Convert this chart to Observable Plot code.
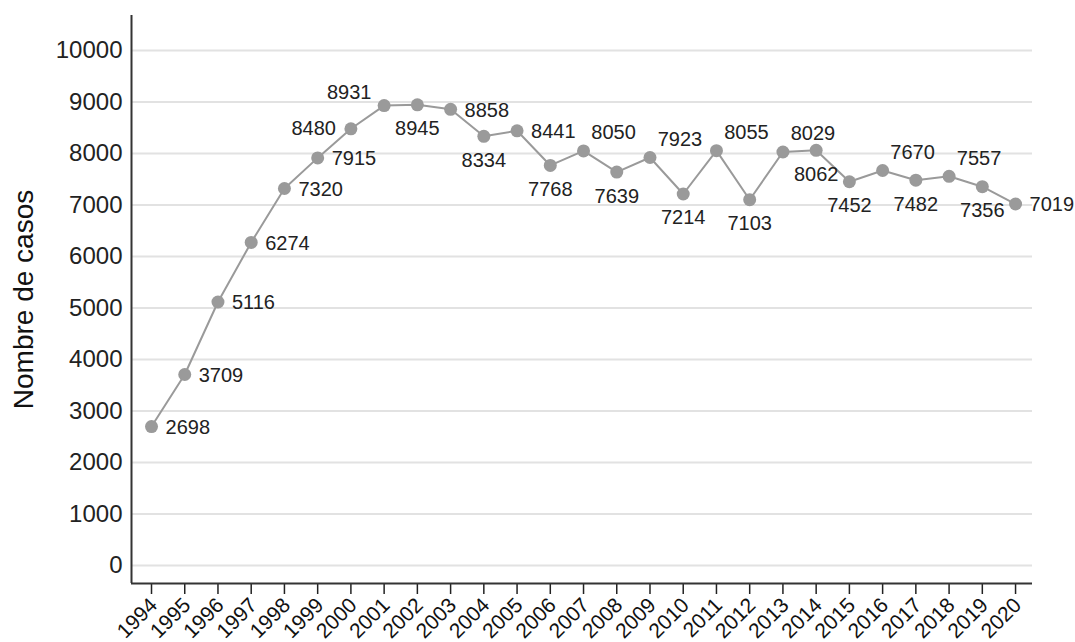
<!DOCTYPE html>
<html><head><meta charset="utf-8">
<script src="https://cdn.jsdelivr.net/npm/d3@7"></script>
<script src="https://cdn.jsdelivr.net/npm/@observablehq/plot@0.6"></script>
<style>body{margin:0;background:#fff;}</style>
</head><body><div id="chart"></div>
<script>
const years = [1994,1995,1996,1997,1998,1999,2000,2001,2002,2003,2004,2005,2006,2007,2008,2009,2010,2011,2012,2013,2014,2015,2016,2017,2018,2019,2020];
const cases = [2698,3709,5116,6274,7320,7915,8480,8931,8945,8858,8334,8441,7768,8050,7639,7923,7214,8055,7103,8029,8062,7452,7670,7482,7557,7356,7019];
// label placement relative to each point (r = right, l = left, b = below, ne = upper right, nw = upper left)
const labelPos = ["r","r","r","r","r","r","l","nw","b","r","b","r","b","ne","b","ne","b","ne","b","ne","b","b","ne","b","ne","b","r"];
const yTicks = [0,1000,2000,3000,4000,5000,6000,7000,8000,9000,10000];
const yTitle = "Nombre de casos";

const data = years.map((y, i) => ({year: y, n: cases[i], pos: labelPos[i]}));
const xMin = 1993.398, xMax = 2020.51, yMin = -350, yMax = 10680;
const font = "'Liberation Sans', Arial, sans-serif";
const lab = (pos, opts) => Plot.text(data.filter(d => d.pos === pos), {
  x: "year", y: "n", text: d => String(d.n), fontSize: 20, fill: "#222", ...opts
});

const chart = Plot.plot({
  width: 1075, height: 642,
  marginLeft: 131, marginRight: 43, marginTop: 15, marginBottom: 59,
  style: {fontFamily: font, color: "#222", background: "#fff"},
  x: {type: "linear", domain: [xMin, xMax]},
  y: {domain: [yMin, yMax]},
  marks: [
    Plot.ruleY(yTicks, {stroke: "#e2e2e2", strokeWidth: 2}),
    Plot.axisY({ticks: yTicks, tickSize: 0, tickPadding: 9, fontSize: 24, tickFormat: d => String(d), label: null}),
    Plot.axisX({ticks: years, tickSize: 11, tickFormat: () => "", label: null, strokeWidth: 1.5}),
    Plot.text(years, {x: d => d, text: d => String(d), frameAnchor: "bottom", rotate: -45, textAnchor: "end", dx: 7, dy: 23, fontSize: 21, fill: "#111"}),
    Plot.ruleX([xMin], {stroke: "#333", strokeWidth: 2}),
    Plot.ruleY([yMin], {stroke: "#333", strokeWidth: 2}),
    Plot.line(data, {x: "year", y: "n", stroke: "#9a9a9a", strokeWidth: 2}),
    Plot.dot(data, {x: "year", y: "n", r: 6.5, fill: "#9a9a9a", stroke: "none"}),
    lab("r", {textAnchor: "start", dx: 14, dy: 1}),
    lab("l", {textAnchor: "end", dx: -15, dy: 0}),
    lab("b", {textAnchor: "middle", dx: 0, dy: 24}),
    lab("ne", {textAnchor: "middle", dx: 30, dy: -18}),
    lab("nw", {textAnchor: "middle", dx: -35, dy: -13}),
    Plot.text([yTitle], {frameAnchor: "left", textAnchor: "middle", rotate: -90, dx: -107, fontSize: 28, fill: "#111"})
  ]
});
document.getElementById("chart").appendChild(chart);
</script>
</body></html>
